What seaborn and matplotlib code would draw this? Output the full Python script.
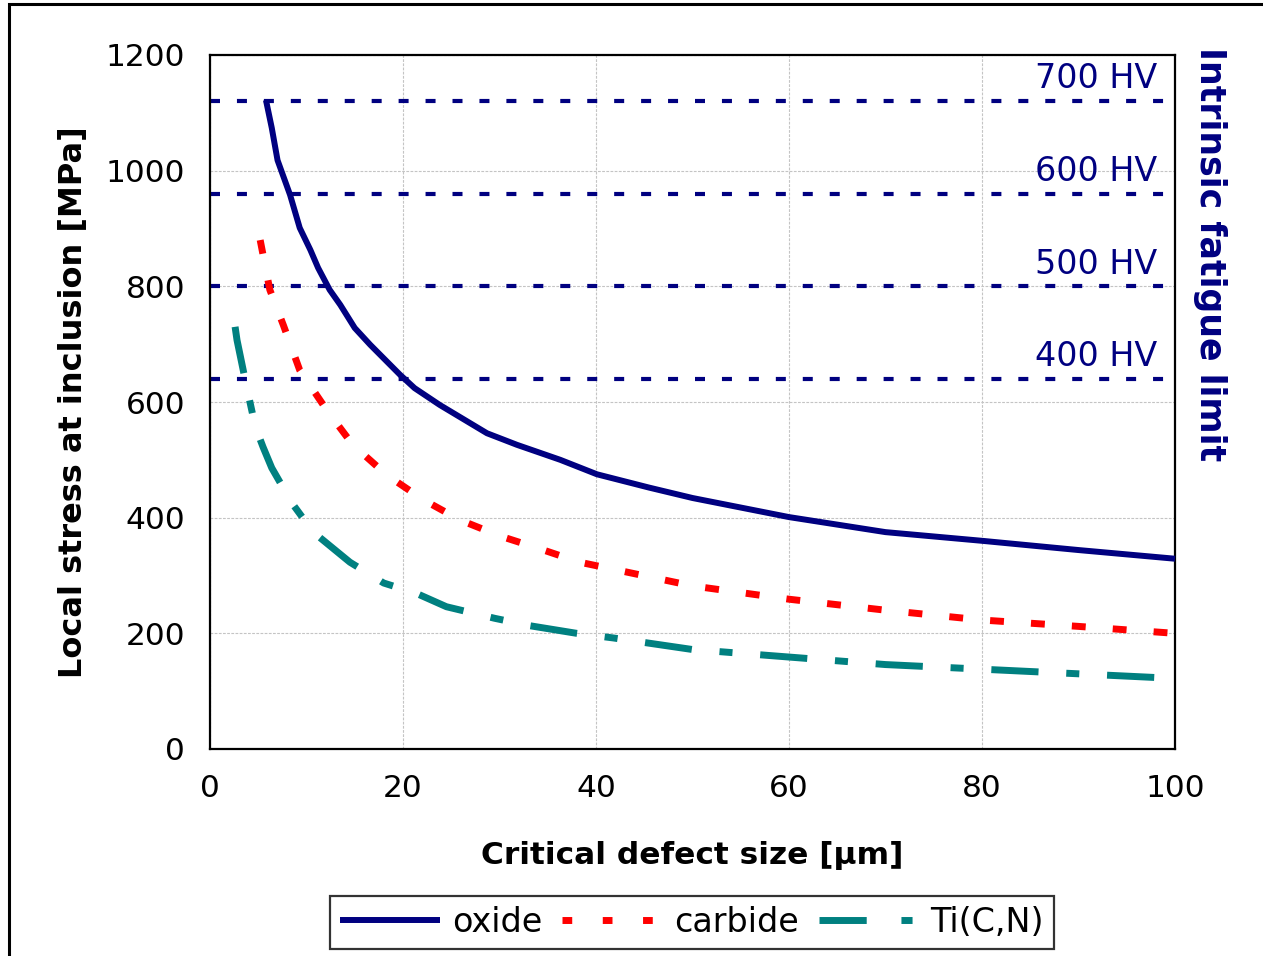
import matplotlib
matplotlib.use("Agg")
import matplotlib.pyplot as plt
import seaborn as sns
import pandas as pd
from matplotlib.patches import Rectangle
from matplotlib.lines import Line2D

# ---- data ----
oxide_x = [5.8, 6.4, 7.0, 8.3, 9.3, 10.4, 11.2, 12.4, 13.5, 15.0, 16.6, 19.7, 21.2, 23.8,
           28.7, 31.8, 36.3, 40.1, 45.5, 50, 60, 70, 80, 90, 100]
oxide_y = [1122, 1074, 1018, 958, 901, 863, 832, 794, 768, 728, 699, 647, 624, 595,
           546, 526, 500, 475, 452, 434, 401, 375, 360, 344, 329]

carbide_x = [5.2, 6.2, 7.6, 9.3, 12.1, 14.8, 18.3, 22.1, 25.9, 30.1, 34.2, 38.3, 42.6,
             50, 60, 70, 80, 90, 100]
carbide_y = [880, 794, 733, 655, 586, 526, 474, 431, 396, 368, 346, 323, 308,
             282, 259, 240, 223, 212, 200]

tin_x = [2.6, 2.8, 3.8, 4.7, 5.5, 6.4, 8.5, 10.7, 14.5, 18.0, 21.4, 24.5, 29.5, 33.2,
         38.0, 41.8, 50, 60, 70, 80, 90, 100]
tin_y = [730, 707, 626, 557, 522, 486, 425, 375, 323, 287, 269, 246, 226, 213,
         200, 192, 172, 159, 146, 138, 130, 122]

hv_labels = ["700 HV", "600 HV", "500 HV", "400 HV"]
hv_values = [1120, 960, 800, 640]

series_names = ["oxide", "carbide", "Ti(C,N)"]
x_ticks = [0, 20, 40, 60, 80, 100]
y_ticks = [0, 200, 400, 600, 800, 1000, 1200]

# ---- style ----
sns.set_style("white")
plt.rcParams["font.family"] = ["DejaVu Sans"]
plt.rcParams["lines.scale_dashes"] = False
plt.rcParams["text.color"] = "black"
plt.rcParams["axes.labelcolor"] = "black"

NAVY = "#000080"
RED = "#FF0000"
TEAL = "#008080"

fig = plt.figure(figsize=(12.63, 9.56), dpi=100)
ax = fig.add_axes([210/1263, 1-749/956, (1175-210)/1263, (749-55)/956])

df = pd.concat([
    pd.DataFrame({"x": oxide_x, "y": oxide_y, "s": series_names[0]}),
    pd.DataFrame({"x": carbide_x, "y": carbide_y, "s": series_names[1]}),
    pd.DataFrame({"x": tin_x, "y": tin_y, "s": series_names[2]}),
])

styles = {
    "oxide": dict(color=NAVY, lw=4.3, dashes=None),
    "carbide": dict(color=RED, lw=5.0, dashes=(10, 19.5)),
    "Ti(C,N)": dict(color=TEAL, lw=5.0, dashes=(34, 20, 9.4, 20)),
}

# HV lines
for v, lab in zip(hv_values, hv_labels):
    ax.axhline(v, color=NAVY, lw=3.0, dashes=(7.2, 12.2), dash_capstyle="butt",
               zorder=2)
    ax.text(98.2, v + 10, lab, ha="right", va="bottom", color=NAVY, fontsize=24)

for name in series_names:
    st = styles[name]
    sub = df[df["s"] == name]
    sns.lineplot(data=sub, x="x", y="y", ax=ax, sort=False, estimator=None,
                 color=st["color"], lw=st["lw"], zorder=3)
    line = ax.get_lines()[-1]
    if st["dashes"] is not None:
        line.set_dashes(st["dashes"])
    line.set_dash_capstyle("butt")
    line.set_solid_capstyle("butt")
    line.set_clip_on(False)

ax.set_xlim(0, 100)
ax.set_ylim(0, 1200)
ax.set_xticks(x_ticks)
ax.set_yticks(y_ticks)
ax.tick_params(axis="both", labelsize=22.5, length=8, width=1.5, direction="out",
               colors="black", labelcolor="black", pad=10)
ax.tick_params(axis="x", pad=10)
ax.grid(True, color="#c4c4c4", lw=0.8, ls=(0, (2, 1)))
ax.set_axisbelow(True)
for sp in ax.spines.values():
    sp.set_color("black")
    sp.set_linewidth(1.6)
    sp.set_visible(True)

ax.set_xlabel("Critical defect size [µm]", fontsize=22.5, fontweight="bold",
              labelpad=27, color="black")
ax.set_ylabel("Local stress at inclusion [MPa]", fontsize=23, fontweight="bold",
              labelpad=12, color="black")

fig.text(1210/1263, 1-254/956, "Intrinsic fatigue limit", rotation=-90, ha="center",
         va="center", color=NAVY, fontsize=25, fontweight="bold")

# legend
handles = [
    Line2D([], [], color=NAVY, lw=4.3, solid_capstyle="butt"),
    Line2D([], [], color=RED, lw=5.0, dashes=(7, 22), dash_capstyle="butt"),
    Line2D([], [], color=TEAL, lw=5.0, dashes=(34, 25, 8, 20), dash_capstyle="butt"),
]
leg = fig.legend(handles, series_names, loc="center", bbox_to_anchor=(692/1263, 1-922/956),
                 ncol=3, fontsize=24, frameon=True, fancybox=False, edgecolor="black",
                 handlelength=3.0, handletextpad=0.35, columnspacing=0.6,
                 borderpad=0.3, borderaxespad=0)
leg.get_frame().set_linewidth(1.6)
for t in leg.get_texts():
    t.set_color("black")

# figure border
fig.patches.append(Rectangle((9/1263, -0.1), 1.2, 1.1 - 4/956,
                             transform=fig.transFigure, fill=False,
                             edgecolor="black", lw=2.2))

fig.savefig("out.png", dpi=100, facecolor="white")
